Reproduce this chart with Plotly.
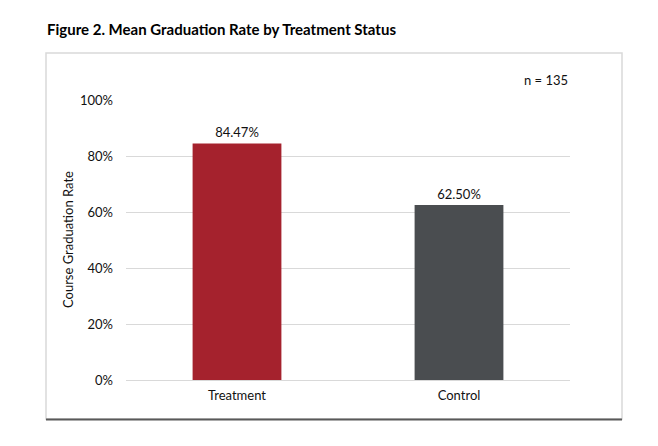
import plotly.graph_objects as go

groups = ["Treatment", "Control"]
grad_rates = [0.8447, 0.6250]
bar_colors = ["#A5222D", "#4A4D50"]
y_ticks = [0, 0.2, 0.4, 0.6, 0.8, 1.0]
sample_note = "n = 135"

FONT = "Lato"
GRID = "#d9d9d9"
INK = "#111111"

# plot area is 126..570 px across, 100..380 px down
PX_W, PX_H = 444, 280


def px(x):
    return (x - 126) / PX_W


def py(y):
    return (380 - y) / PX_H


fig = go.Figure(
    go.Bar(
        x=groups,
        y=grad_rates,
        marker={"color": bar_colors, "line": {"width": 0}},
        texttemplate="%{y:.2%}",
        textposition="outside",
        textfont={"family": FONT, "size": 13, "color": INK},
        cliponaxis=False,
        hoverinfo="skip",
    )
)

fig.update_layout(
    width=658,
    height=446,
    margin={"l": 126, "r": 88, "t": 100, "b": 66},
    paper_bgcolor="white",
    plot_bgcolor="white",
    bargap=0.6,
    showlegend=False,
    font={"family": FONT, "size": 13, "color": INK},
    title={
        "text": "<b>Figure 2. Mean Graduation Rate by Treatment Status</b>",
        "font": {"family": FONT, "size": 15, "color": "black"},
        "x": 47 / 658,
        "xanchor": "left",
        "xref": "container",
        "y": 1 - 30 / 446,
        "yanchor": "middle",
        "yref": "container",
    },
    xaxis={
        "showgrid": False,
        "showline": False,
        "zeroline": False,
        "ticks": "",
        "ticklabelstandoff": 6,
    },
    yaxis={
        "range": [0, 1],
        "tickvals": y_ticks,
        "tickformat": ".0%",
        "showgrid": True,
        "gridcolor": GRID,
        "gridwidth": 1,
        "zeroline": True,
        "zerolinecolor": GRID,
        "zerolinewidth": 1,
        "showline": False,
        "ticks": "",
        "ticklabelstandoff": 12,
    },
    shapes=[
        {
            "type": "rect", "xref": "paper", "yref": "paper",
            "x0": px(46), "x1": px(622), "y0": py(419), "y1": py(53),
            "line": {"color": GRID, "width": 1.5}, "layer": "below",
        },
        {
            "type": "line", "xref": "paper", "yref": "paper",
            "x0": px(46), "x1": px(622), "y0": py(419.5), "y1": py(419.5),
            "line": {"color": "#595959", "width": 2},
        },
    ],
    annotations=[
        {
            "text": "Course Graduation Rate", "xref": "paper", "yref": "paper",
            "x": px(68), "y": 0.5, "textangle": -90, "showarrow": False,
            "xanchor": "center", "yanchor": "middle", "font": {"size": 13},
        },
        {
            "text": sample_note, "xref": "paper", "yref": "paper",
            "x": 1, "y": py(80), "showarrow": False,
            "xanchor": "right", "yanchor": "middle", "font": {"size": 13},
        },
    ],
)

# the page's default body margin would push the figure 8px off
fig.write_html(
    "out.html",
    config={"displayModeBar": False},
    post_script="document.body.style.margin = '0';",
)
